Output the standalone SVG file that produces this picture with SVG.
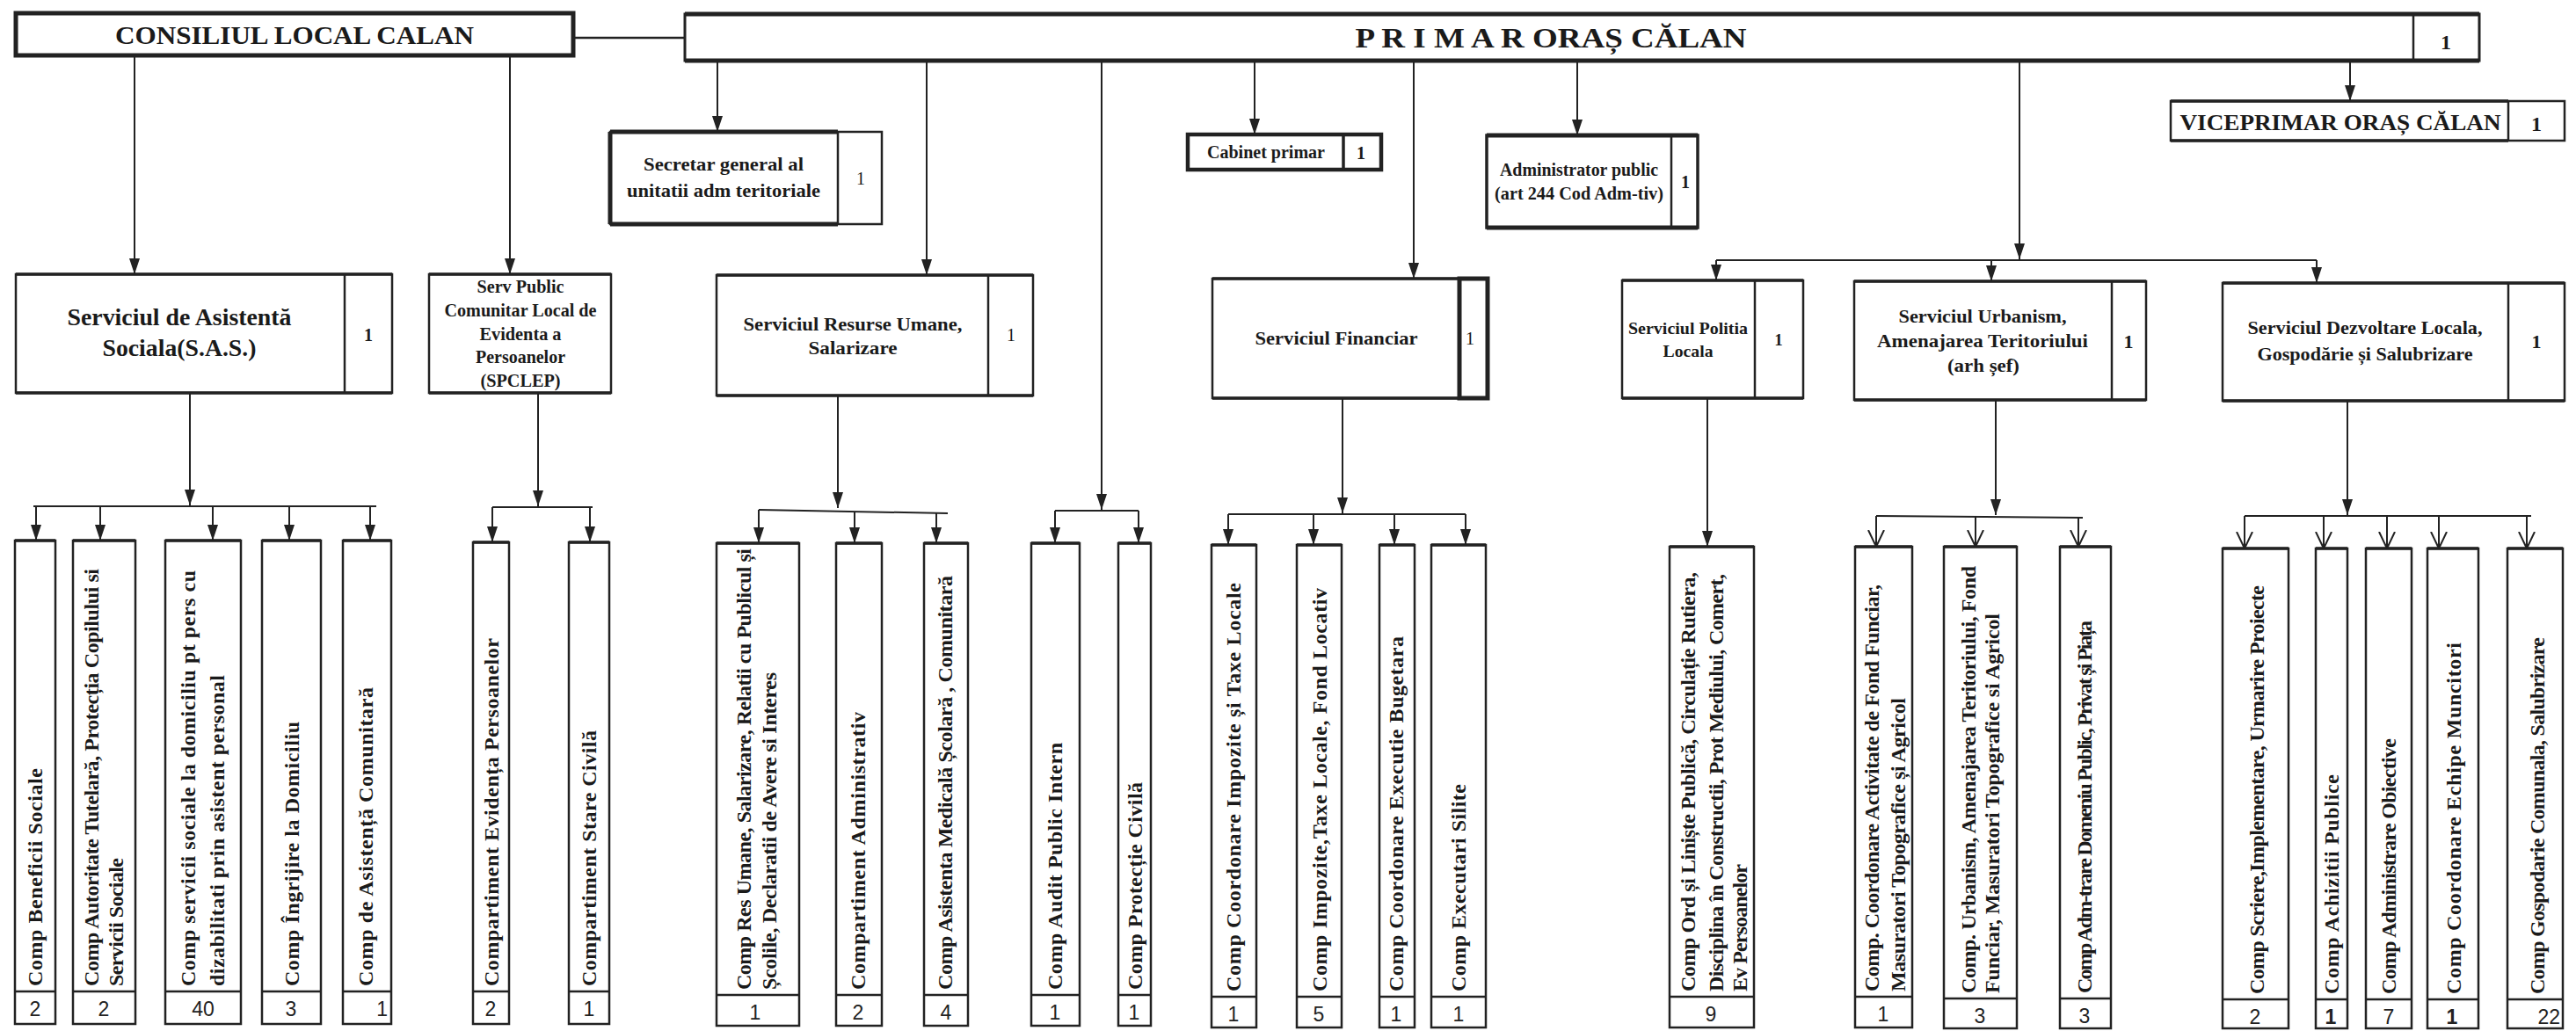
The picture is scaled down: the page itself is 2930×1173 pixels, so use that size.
<svg xmlns="http://www.w3.org/2000/svg" width="2930" height="1173" viewBox="0 0 2930 1173">
<style>
.bx{fill:#fff;stroke:#222;stroke-width:2.5}
.hv{fill:none;stroke:#222;stroke-width:5}
.md{fill:none;stroke:#222;stroke-width:3.5}
.dv{fill:none;stroke:#222;stroke-width:2.5}
.ln{fill:none;stroke:#222;stroke-width:2}
.t{font-family:"Liberation Serif","Times New Roman",serif;font-weight:bold;fill:#1a1a1a;text-anchor:middle}
.tn{font-family:"Liberation Serif","Times New Roman",serif;font-weight:normal;fill:#1a1a1a;text-anchor:middle}
.v{font-family:"Liberation Serif","Times New Roman",serif;font-weight:bold;font-size:24px;fill:#1a1a1a}
.n{font-family:"Liberation Sans",Arial,sans-serif;font-size:23px;fill:#222;text-anchor:middle}
.nb{font-family:"Liberation Sans",Arial,sans-serif;font-size:23px;font-weight:bold;fill:#222;text-anchor:middle}
</style>
<defs>
<marker id="a" viewBox="0 0 18 12" refX="18" refY="6" markerWidth="18" markerHeight="12" markerUnits="userSpaceOnUse" orient="auto"><path d="M0,0 L18,6 L0,12 z" fill="#222"/></marker>
<marker id="o" viewBox="0 0 20 20" refX="19" refY="10" markerWidth="20" markerHeight="20" markerUnits="userSpaceOnUse" orient="auto"><path d="M0,1 L19,10 L0,19" fill="none" stroke="#222" stroke-width="2"/></marker>
</defs>
<rect width="2930" height="1173" fill="#fff"/>

<g id="connectors">
<path class="ln" d="M652,43H779" style="stroke-width:2.5"/>
<path class="ln" marker-end="url(#a)" d="M153,63V312"/>
<path class="ln" marker-end="url(#a)" d="M580,63V312"/>
<path class="ln" marker-end="url(#a)" d="M816,69V150"/>
<path class="ln" marker-end="url(#a)" d="M1054,69V313"/>
<path class="ln" marker-end="url(#a)" d="M1253,69V580"/>
<path class="ln" d="M1200,581H1295"/>
<path class="ln" marker-end="url(#a)" d="M1200,581V618"/>
<path class="ln" marker-end="url(#a)" d="M1295,581V618"/>
<path class="ln" marker-end="url(#a)" d="M1427,69V153"/>
<path class="ln" marker-end="url(#a)" d="M1608,69V317"/>
<path class="ln" marker-end="url(#a)" d="M1794,69V154"/>
<path class="ln" marker-end="url(#a)" d="M2297,70V295"/>
<path class="ln" d="M1952,296H2635"/>
<path class="ln" marker-end="url(#a)" d="M1952,296V319"/>
<path class="ln" marker-end="url(#a)" d="M2265,296V320"/>
<path class="ln" marker-end="url(#a)" d="M2635,296V322"/>
<path class="ln" marker-end="url(#a)" d="M2673,70V115"/>

<path class="ln" marker-end="url(#a)" d="M216,447V575"/>
<path class="ln" d="M38,576H428"/>
<path class="ln" marker-end="url(#a)" d="M41,576V615"/>
<path class="ln" marker-end="url(#a)" d="M114,576V615"/>
<path class="ln" marker-end="url(#a)" d="M242,576V615"/>
<path class="ln" marker-end="url(#a)" d="M329,576V615"/>
<path class="ln" marker-end="url(#a)" d="M421,576V615"/>

<path class="ln" marker-end="url(#a)" d="M612,447V576"/>
<path class="ln" d="M560,577H674"/>
<path class="ln" marker-end="url(#a)" d="M560,577V617"/>
<path class="ln" marker-end="url(#a)" d="M671,577V617"/>

<path class="ln" marker-end="url(#a)" d="M953,450V578"/>
<path class="ln" d="M863,580L1078,584"/>
<path class="ln" marker-end="url(#a)" d="M863,580V618"/>
<path class="ln" marker-end="url(#a)" d="M972,582V618"/>
<path class="ln" marker-end="url(#a)" d="M1065,584V618"/>

<path class="ln" marker-end="url(#a)" d="M1527,453V584"/>
<path class="ln" d="M1397,585H1667"/>
<path class="ln" marker-end="url(#a)" d="M1397,585V620"/>
<path class="ln" marker-end="url(#a)" d="M1494,585V620"/>
<path class="ln" marker-end="url(#a)" d="M1586,585V620"/>
<path class="ln" marker-end="url(#a)" d="M1667,585V620"/>

<path class="ln" marker-end="url(#a)" d="M1942,453V622"/>

<path class="ln" marker-end="url(#a)" d="M2270,455V586"/>
<path class="ln" d="M2134,587L2369,589"/>
<path class="ln" marker-end="url(#o)" d="M2134,587V622"/>
<path class="ln" marker-end="url(#o)" d="M2247,588V622"/>
<path class="ln" marker-end="url(#o)" d="M2364,589V622"/>

<path class="ln" marker-end="url(#a)" d="M2670,456V586"/>
<path class="ln" d="M2553,587H2879"/>
<path class="ln" marker-end="url(#o)" d="M2553,587V624"/>
<path class="ln" marker-end="url(#o)" d="M2643,587V624"/>
<path class="ln" marker-end="url(#o)" d="M2715,587V624"/>
<path class="ln" marker-end="url(#o)" d="M2774,587V624"/>
<path class="ln" marker-end="url(#o)" d="M2874,587V624"/>
</g>

<g id="consiliul">
<rect x="18" y="15" width="634" height="48" fill="#fff" stroke="#222" stroke-width="5"/>
<text class="t" x="335" y="50" font-size="30" textLength="408" lengthAdjust="spacingAndGlyphs">CONSILIUL LOCAL  CALAN</text>
</g>

<g id="primar">
<rect class="bx" x="779" y="16" width="2041" height="53" style="stroke-width:3"/>
<path class="hv" d="M779,16H2820M779,69H2820"/>
<path class="dv" d="M2745,16V69"/>
<text class="t" x="1764" y="54" font-size="32" textLength="445" lengthAdjust="spacingAndGlyphs">P R I M A R  ORAȘ CĂLAN</text>
<text class="t" x="2782" y="56" font-size="24">1</text>
</g>

<g id="viceprimar">
<rect class="bx" x="2469" y="115" width="448" height="45"/>
<path class="md" d="M2469,115H2853M2469,160H2853"/>
<path class="dv" d="M2853,115V160"/>
<text class="t" x="2662" y="148" font-size="26" textLength="365" lengthAdjust="spacingAndGlyphs">VICEPRIMAR ORAȘ CĂLAN</text>
<text class="t" x="2885" y="149" font-size="24">1</text>
</g>

<g id="secretar">
<rect class="bx" x="694" y="150" width="309" height="105"/>
<path class="hv" d="M694,150H953M694,255H953M694,150V255"/>
<path class="dv" d="M953,150V255"/>
<text class="t" x="823" y="194" font-size="21" textLength="182" lengthAdjust="spacingAndGlyphs">Secretar general al</text>
<text class="t" x="823" y="224" font-size="21" textLength="220" lengthAdjust="spacingAndGlyphs">unitatii adm teritoriale</text>
<text class="tn" x="979" y="210" font-size="20">1</text>
</g>

<g id="cabinet">
<rect x="1351" y="153" width="220" height="40" fill="#fff" stroke="#222" stroke-width="4.5"/>
<path class="md" d="M1528,153V193"/>
<text class="t" x="1440" y="180" font-size="20" textLength="134" lengthAdjust="spacingAndGlyphs">Cabinet primar</text>
<text class="t" x="1548" y="181" font-size="20">1</text>
</g>

<g id="administrator">
<rect class="bx" x="1691" y="154" width="240" height="105" style="stroke-width:3.5"/>
<path class="hv" d="M1691,154H1931M1691,259H1931"/>
<path class="dv" d="M1901,154V259"/>
<text class="t" x="1796" y="200" font-size="20" textLength="180" lengthAdjust="spacingAndGlyphs">Administrator public</text>
<text class="t" x="1796" y="227" font-size="20" textLength="192" lengthAdjust="spacingAndGlyphs">(art 244 Cod Adm-tiv)</text>
<text class="t" x="1917" y="214" font-size="20">1</text>
</g>

<g id="sas">
<rect class="bx" x="18" y="312" width="428" height="135"/>
<path class="md" d="M18,312H446M18,447H446"/>
<path class="dv" d="M392,312V447"/>
<text class="t" x="204" y="370" font-size="27" textLength="255" lengthAdjust="spacingAndGlyphs">Serviciul de Asistentă</text>
<text class="t" x="204" y="405" font-size="27" textLength="175" lengthAdjust="spacingAndGlyphs">Sociala(S.A.S.)</text>
<text class="t" x="419" y="388" font-size="20">1</text>
</g>

<g id="spclep">
<rect class="bx" x="488" y="312" width="207" height="135"/>
<path class="md" d="M488,312H695M488,447H695"/>
<text class="t" x="592" y="333" font-size="20" textLength="99" lengthAdjust="spacingAndGlyphs">Serv Public</text>
<text class="t" x="592" y="360" font-size="20" textLength="173" lengthAdjust="spacingAndGlyphs">Comunitar Local de</text>
<text class="t" x="592" y="387" font-size="20" textLength="93" lengthAdjust="spacingAndGlyphs">Evidenta a</text>
<text class="t" x="592" y="413" font-size="20" textLength="102" lengthAdjust="spacingAndGlyphs">Persoanelor</text>
<text class="t" x="592" y="440" font-size="20" textLength="91" lengthAdjust="spacingAndGlyphs">(SPCLEP)</text>
</g>

<g id="resurse">
<rect class="bx" x="815" y="313" width="360" height="137"/>
<path class="md" d="M815,313H1175M815,450H1175"/>
<path class="dv" d="M1124,313V450"/>
<text class="t" x="970" y="376" font-size="21" textLength="249" lengthAdjust="spacingAndGlyphs">Serviciul Resurse Umane,</text>
<text class="t" x="970" y="403" font-size="21" textLength="101" lengthAdjust="spacingAndGlyphs">Salarizare</text>
<text class="tn" x="1150" y="388" font-size="20">1</text>
</g>

<g id="financiar">
<rect class="bx" x="1379" y="317" width="313" height="136"/>
<path class="md" d="M1379,317H1692M1379,453H1692"/>
<rect x="1660" y="317" width="32" height="136" fill="none" stroke="#222" stroke-width="5"/>
<text class="t" x="1520" y="392" font-size="21" textLength="185" lengthAdjust="spacingAndGlyphs">Serviciul Financiar</text>
<text class="tn" x="1672" y="392" font-size="21">1</text>
</g>

<g id="politia">
<rect class="bx" x="1845" y="319" width="206" height="134"/>
<path class="md" d="M1845,319H2051M1845,453H2051"/>
<path class="dv" d="M1996,319V453"/>
<text class="t" x="1920" y="380" font-size="19" textLength="136" lengthAdjust="spacingAndGlyphs">Serviciul Politia</text>
<text class="t" x="1920" y="406" font-size="19" textLength="57" lengthAdjust="spacingAndGlyphs">Locala</text>
<text class="t" x="2023" y="393" font-size="19">1</text>
</g>

<g id="urbanism">
<rect class="bx" x="2109" y="320" width="332" height="135"/>
<path class="md" d="M2109,320H2441M2109,455H2441"/>
<path class="dv" d="M2402,320V455"/>
<text class="t" x="2255" y="367" font-size="22" textLength="191" lengthAdjust="spacingAndGlyphs">Serviciul Urbanism,</text>
<text class="t" x="2255" y="395" font-size="22" textLength="240" lengthAdjust="spacingAndGlyphs">Amenajarea Teritoriului</text>
<text class="t" x="2256" y="423" font-size="22" textLength="82" lengthAdjust="spacingAndGlyphs">(arh șef)</text>
<text class="t" x="2421" y="396" font-size="22">1</text>
</g>

<g id="dezvoltare">
<rect class="bx" x="2528" y="322" width="389" height="134"/>
<path class="md" d="M2528,322H2917M2528,456H2917"/>
<path class="dv" d="M2853,322V456"/>
<text class="t" x="2690" y="380" font-size="22" textLength="267" lengthAdjust="spacingAndGlyphs">Serviciul Dezvoltare Locala,</text>
<text class="t" x="2690" y="410" font-size="22" textLength="245" lengthAdjust="spacingAndGlyphs">Gospodărie și Salubrizare</text>
<text class="t" x="2885" y="396" font-size="22">1</text>
</g>

<g id="c01"><rect class="bx" x="17" y="615" width="46" height="550"/><path class="md" d="M17,615H63"/><path class="dv" d="M17,1128H63"/>
<text class="v" transform="translate(48,1122) rotate(-90)" textLength="248">Comp Beneficii Sociale</text><text class="n" x="40" y="1156">2</text></g>

<g id="c02"><rect class="bx" x="83" y="615" width="71" height="550"/><path class="md" d="M83,615H154"/><path class="dv" d="M83,1128H154"/>
<text class="v" transform="translate(112,1122) rotate(-90)" textLength="475">Comp Autoritate Tutelară, Protecția Copilului si</text>
<text class="v" transform="translate(140,1122) rotate(-90)" textLength="146">Servicii Sociale</text><text class="n" x="118" y="1156">2</text></g>

<g id="c03"><rect class="bx" x="188" y="615" width="86" height="550"/><path class="md" d="M188,615H274"/><path class="dv" d="M188,1128H274"/>
<text class="v" transform="translate(222,1122) rotate(-90)" textLength="473">Comp servicii sociale la domiciliu pt pers cu</text>
<text class="v" transform="translate(255,1122) rotate(-90)" textLength="354">dizabilitati prin asistent personal</text><text class="n" x="231" y="1156">40</text></g>

<g id="c04"><rect class="bx" x="298" y="615" width="67" height="550"/><path class="md" d="M298,615H365"/><path class="dv" d="M298,1128H365"/>
<text class="v" transform="translate(340,1122) rotate(-90)" textLength="301">Comp Îngrijire la Domiciliu</text><text class="n" x="331" y="1156">3</text></g>

<g id="c05"><rect class="bx" x="390" y="615" width="55" height="550"/><path class="md" d="M390,615H445"/><path class="dv" d="M390,1128H445"/>
<text class="v" transform="translate(424,1122) rotate(-90)" textLength="340">Comp de Asistență Comunitară</text><text class="n" x="441" y="1156" style="text-anchor:end">1</text></g>

<g id="c06"><rect class="bx" x="538" y="617" width="41" height="548"/><path class="md" d="M538,617H579"/><path class="dv" d="M538,1128H579"/>
<text class="v" transform="translate(567,1122) rotate(-90)" textLength="396">Compartiment Evidența Persoanelor</text><text class="n" x="558" y="1156">2</text></g>

<g id="c07"><rect class="bx" x="647" y="617" width="46" height="548"/><path class="md" d="M647,617H693"/><path class="dv" d="M647,1128H693"/>
<text class="v" transform="translate(678,1122) rotate(-90)" textLength="291">Compartiment Stare Civilă</text><text class="n" x="670" y="1156">1</text></g>

<g id="c08"><rect class="bx" x="815" y="618" width="94" height="549"/><path class="md" d="M815,618H909"/><path class="dv" d="M815,1132H909"/>
<text class="v" transform="translate(854,1126) rotate(-90)" textLength="502">Comp Res Umane, Salarizare, Relatii cu Publicul și</text>
<text class="v" transform="translate(883,1126) rotate(-90)" textLength="361">Școlile, Declaratii de Avere si Interes</text><text class="n" x="859" y="1160">1</text></g>

<g id="c09"><rect class="bx" x="951" y="618" width="52" height="549"/><path class="md" d="M951,618H1003"/><path class="dv" d="M951,1132H1003"/>
<text class="v" transform="translate(984,1126) rotate(-90)" textLength="316">Compartiment Administrativ</text><text class="n" x="976" y="1160">2</text></g>

<g id="c10"><rect class="bx" x="1051" y="618" width="50" height="549"/><path class="md" d="M1051,618H1101"/><path class="dv" d="M1051,1132H1101"/>
<text class="v" transform="translate(1083,1126) rotate(-90)" textLength="471">Comp Asistenta  Medicală Școlară , Comunitară</text><text class="n" x="1076" y="1160">4</text></g>

<g id="c11"><rect class="bx" x="1173" y="618" width="55" height="549"/><path class="md" d="M1173,618H1228"/><path class="dv" d="M1173,1132H1228"/>
<text class="v" transform="translate(1208,1126) rotate(-90)" textLength="281">Comp Audit Public Intern</text><text class="n" x="1200" y="1160">1</text></g>

<g id="c12"><rect class="bx" x="1272" y="618" width="37" height="549"/><path class="md" d="M1272,618H1309"/><path class="dv" d="M1272,1132H1309"/>
<text class="v" transform="translate(1299,1126) rotate(-90)" textLength="236">Comp Protecție Civilă</text><text class="n" x="1290" y="1160">1</text></g>

<g id="c13"><rect class="bx" x="1378" y="620" width="51" height="549"/><path class="md" d="M1378,620H1429"/><path class="dv" d="M1378,1134H1429"/>
<text class="v" transform="translate(1411,1128) rotate(-90)" textLength="465">Comp Coordonare Impozite și Taxe Locale</text><text class="n" x="1403" y="1162">1</text></g>

<g id="c14"><rect class="bx" x="1475" y="620" width="51" height="549"/><path class="md" d="M1475,620H1526"/><path class="dv" d="M1475,1134H1526"/>
<text class="v" transform="translate(1509,1128) rotate(-90)" textLength="459">Comp Impozite,Taxe Locale, Fond Locativ</text><text class="n" x="1500" y="1162">5</text></g>

<g id="c15"><rect class="bx" x="1569" y="620" width="40" height="549"/><path class="md" d="M1569,620H1609"/><path class="dv" d="M1569,1134H1609"/>
<text class="v" transform="translate(1596,1128) rotate(-90)" textLength="404">Comp Coordonare Executie Bugetara</text><text class="n" x="1588" y="1162">1</text></g>

<g id="c16"><rect class="bx" x="1628" y="620" width="62" height="549"/><path class="md" d="M1628,620H1690"/><path class="dv" d="M1628,1134H1690"/>
<text class="v" transform="translate(1667,1128) rotate(-90)" textLength="236">Comp Executari Silite</text><text class="n" x="1659" y="1162">1</text></g>

<g id="c17"><rect class="bx" x="1899" y="622" width="96" height="547"/><path class="md" d="M1899,622H1995"/><path class="dv" d="M1899,1134H1995"/>
<text class="v" transform="translate(1928,1128) rotate(-90)" textLength="477">Comp Ord și Liniște Publică, Circulație Rutiera,</text>
<text class="v" transform="translate(1960,1128) rotate(-90)" textLength="475">Disciplina în Constructii, Prot Mediului, Comert,</text>
<text class="v" transform="translate(1987,1128) rotate(-90)" textLength="145">Ev Persoanelor</text><text class="n" x="1946" y="1162">9</text></g>

<g id="c18"><rect class="bx" x="2110" y="622" width="65" height="547"/><path class="md" d="M2110,622H2175"/><path class="dv" d="M2110,1134H2175"/>
<text class="v" transform="translate(2137,1128) rotate(-90)" textLength="463">Comp. Coordonare Activitate de  Fond Funciar,</text>
<text class="v" transform="translate(2167,1128) rotate(-90)" textLength="334">Masuratori Topografice și Agricol</text><text class="n" x="2142" y="1162">1</text></g>

<g id="c19"><rect class="bx" x="2211" y="622" width="83" height="548"/><path class="md" d="M2211,622H2294"/><path class="dv" d="M2211,1136H2294"/>
<text class="v" transform="translate(2247,1130) rotate(-90)" textLength="486">Comp.  Urbanism, Amenajarea Teritoriului, Fond</text>
<text class="v" transform="translate(2274,1130) rotate(-90)" textLength="432">Funciar, Masuratori Topografice si   Agricol</text><text class="n" x="2252" y="1164">3</text></g>

<g id="c20"><rect class="bx" x="2343" y="622" width="58" height="548"/><path class="md" d="M2343,622H2401"/><path class="dv" d="M2343,1136H2401"/>
<text class="v" transform="translate(2379,1130) rotate(-90)" textLength="424">Comp Adm-trare Domeniu Public, Privat și Piața</text><text class="n" x="2371" y="1164">3</text></g>

<g id="c21"><rect class="bx" x="2528" y="624" width="75" height="546"/><path class="md" d="M2528,624H2603"/><path class="dv" d="M2528,1137H2603"/>
<text class="v" transform="translate(2575,1131) rotate(-90)" textLength="465">Comp Scriere,Implementare, Urmarire Proiecte</text><text class="n" x="2565" y="1165">2</text></g>

<g id="c22"><rect class="bx" x="2634" y="624" width="36" height="546"/><path class="md" d="M2634,624H2670"/><path class="dv" d="M2634,1137H2670"/>
<text class="v" transform="translate(2660,1131) rotate(-90)" textLength="250">Comp  Achizitii Publice</text><text class="nb" x="2651" y="1165">1</text></g>

<g id="c23"><rect class="bx" x="2691" y="624" width="52" height="546"/><path class="md" d="M2691,624H2743"/><path class="dv" d="M2691,1137H2743"/>
<text class="v" transform="translate(2725,1131) rotate(-90)" textLength="291">Comp Administrare Obiective</text><text class="n" x="2717" y="1165">7</text></g>

<g id="c24"><rect class="bx" x="2761" y="624" width="58" height="546"/><path class="md" d="M2761,624H2819"/><path class="dv" d="M2761,1137H2819"/>
<text class="v" transform="translate(2799,1131) rotate(-90)" textLength="400">Comp  Coordonare Echipe Muncitori</text><text class="nb" x="2789" y="1165">1</text></g>

<g id="c25"><rect class="bx" x="2852" y="624" width="63" height="546"/><path class="md" d="M2852,624H2915"/><path class="dv" d="M2852,1137H2915"/>
<text class="v" transform="translate(2894,1131) rotate(-90)" textLength="406">Comp Gospodarie Comunala, Salubrizare</text><text class="n" x="2912" y="1165" style="text-anchor:end">22</text></g>
</svg>
